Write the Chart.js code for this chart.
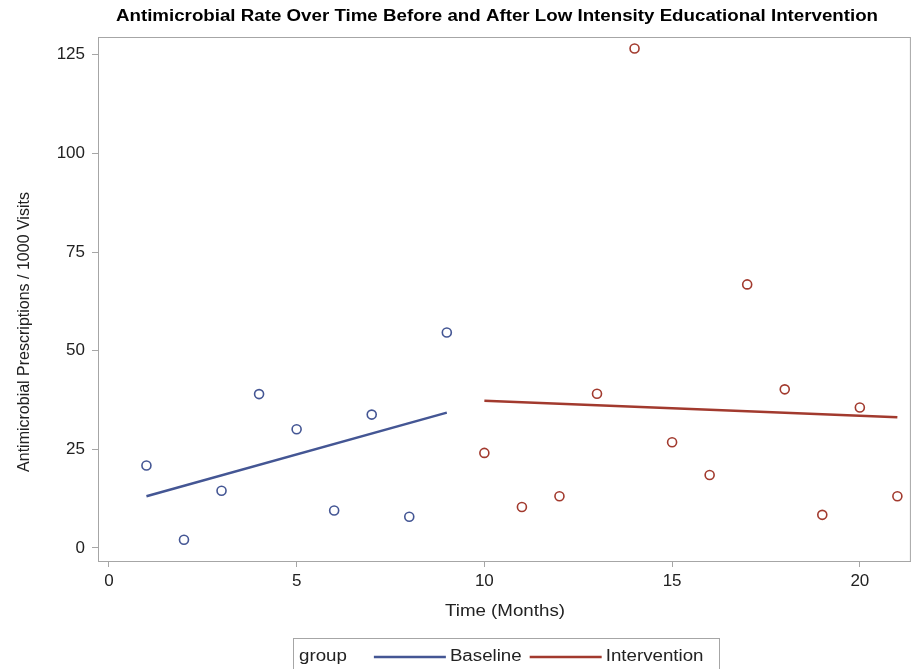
<!DOCTYPE html>
<html>
<head>
<meta charset="utf-8">
<script src="https://cdn.jsdelivr.net/npm/chart.js@4.4.1/dist/chart.umd.min.js"></script>
<style>
  body { margin: 0; background: #fff; }
</style>
</head>
<body>
<canvas id="chart" width="917" height="669"></canvas>
<script>
// data
var baselineMonths = [1, 2, 3, 4, 5, 6, 7, 8, 9]
var baselineRates = [20.9, 2.1, 14.5, 39.0, 30.1, 9.5, 33.8, 7.9, 54.6]
var interventionMonths = [10, 11, 12, 13, 14, 15, 16, 17, 18, 19, 20, 21]
var interventionRates = [24.1, 10.4, 13.1, 39.1, 126.6, 26.8, 18.5, 66.8, 40.2, 8.4, 35.6, 13.1]

// fitted lines (end points)
var baselineFitMonths = [1, 9]
var baselineFit = [13.1, 34.3]
var interventionFitMonths = [10, 21]
var interventionFit = [37.3, 33.1]

var xTicks = [0, 5, 10, 15, 20]
var yTicks = [0, 25, 50, 75, 100, 125]

var blue = '#445694'
var red = '#A23A2E'
var frameColor = '#a6a6a6'
var fontFamily = '"Liberation Sans", Arial, sans-serif'
var stretch = 1.17

function toPoints(xs, ys) {
    var pts = []
    for (var i = 0; i < xs.length; i++) {
        pts.push({ x: xs[i], y: ys[i] })
    }
    return pts
}

function wideText(ctx, text, x, y, align) {
    ctx.save()
    ctx.translate(x, y)
    ctx.scale(stretch, 1)
    ctx.textAlign = align
    ctx.fillText(text, 0, 0)
    ctx.restore()
}

var decorations = {
    id: 'decorations',
    afterDraw: function (chart) {
        var ctx = chart.ctx
        var area = chart.chartArea
        ctx.save()
        // frame
        ctx.strokeStyle = frameColor
        ctx.lineWidth = 1
        ctx.strokeRect(area.left + 0.5, area.top + 0.5, area.right - area.left - 1, area.bottom - area.top)

        ctx.textBaseline = 'middle'
        // title
        ctx.fillStyle = '#000'
        ctx.font = 'bold 16px ' + fontFamily
        wideText(ctx, 'Antimicrobial Rate Over Time Before and After Low Intensity Educational Intervention', 497, 17, 'center')

        // axis titles
        ctx.fillStyle = '#222'
        ctx.font = '16px ' + fontFamily
        wideText(ctx, 'Time (Months)', 505, 612, 'center')
        ctx.save()
        ctx.translate(25, 332)
        ctx.rotate(-Math.PI / 2)
        ctx.textAlign = 'center'
        ctx.fillText('Antimicrobial Prescriptions / 1000 Visits', 0, 0)
        ctx.restore()

        // legend
        var boxLeft = 293, boxTop = 638, boxRight = 719
        ctx.strokeStyle = frameColor
        ctx.strokeRect(boxLeft + 0.5, boxTop + 0.5, boxRight - boxLeft, 40)
        var ly = 657
        var x = boxLeft + 6
        wideText(ctx, 'group', x, ly, 'left')
        x += ctx.measureText('group').width * stretch + 27
        var items = [['Baseline', blue], ['Intervention', red]]
        items.forEach(function (item) {
            ctx.strokeStyle = item[1]
            ctx.lineWidth = 2.5
            ctx.beginPath()
            ctx.moveTo(x, ly)
            ctx.lineTo(x + 72, ly)
            ctx.stroke()
            x += 76
            wideText(ctx, item[0], x, ly, 'left')
            x += ctx.measureText(item[0]).width * stretch + 8
        })
        ctx.restore()
    }
}

var ctx = document.getElementById('chart').getContext('2d')
var myChart = new Chart(ctx, {
    type: 'scatter',
    data: {
        datasets: [
            {
                label: 'Baseline',
                data: toPoints(baselineMonths, baselineRates),
                borderColor: blue,
                backgroundColor: 'rgba(0,0,0,0)',
                pointRadius: 4.5,
                borderWidth: 1.6,
                showLine: false
            },
            {
                label: 'Intervention',
                data: toPoints(interventionMonths, interventionRates),
                borderColor: red,
                backgroundColor: 'rgba(0,0,0,0)',
                pointRadius: 4.5,
                borderWidth: 1.6,
                showLine: false
            },
            {
                label: 'Baseline fit',
                data: toPoints(baselineFitMonths, baselineFit),
                borderColor: blue,
                borderWidth: 2.5,
                pointRadius: 0,
                showLine: true
            },
            {
                label: 'Intervention fit',
                data: toPoints(interventionFitMonths, interventionFit),
                borderColor: red,
                borderWidth: 2.5,
                pointRadius: 0,
                showLine: true
            }
        ]
    },
    options: {
        responsive: false,
        animation: false,
        layout: { padding: { top: 37, right: 5, left: 0, bottom: 0 } },
        plugins: {
            legend: { display: false },
            title: { display: false },
            tooltip: { enabled: false }
        },
        scales: {
            x: {
                type: 'linear',
                min: -0.29,
                max: 21.36,
                afterFit: function (scale) { scale.height = 108 },
                afterBuildTicks: function (scale) {
                    scale.ticks = xTicks.map(function (v) { return { value: v } })
                },
                grid: { drawOnChartArea: false, drawTicks: true, tickLength: 6, color: frameColor },
                border: { display: true, color: frameColor },
                ticks: {
                    color: '#222',
                    padding: 4,
                    maxRotation: 0,
                    font: { family: fontFamily, size: 17 }
                }
            },
            y: {
                type: 'linear',
                min: -3.3,
                max: 129.5,
                afterFit: function (scale) { scale.width = 98 },
                afterBuildTicks: function (scale) {
                    scale.ticks = yTicks.map(function (v) { return { value: v } })
                },
                grid: { drawOnChartArea: false, drawTicks: true, tickLength: 6, color: frameColor },
                border: { display: true, color: frameColor },
                ticks: {
                    color: '#222',
                    padding: 7,
                    font: { family: fontFamily, size: 17 }
                }
            }
        }
    },
    plugins: [decorations]
})
</script>
</body>
</html>
